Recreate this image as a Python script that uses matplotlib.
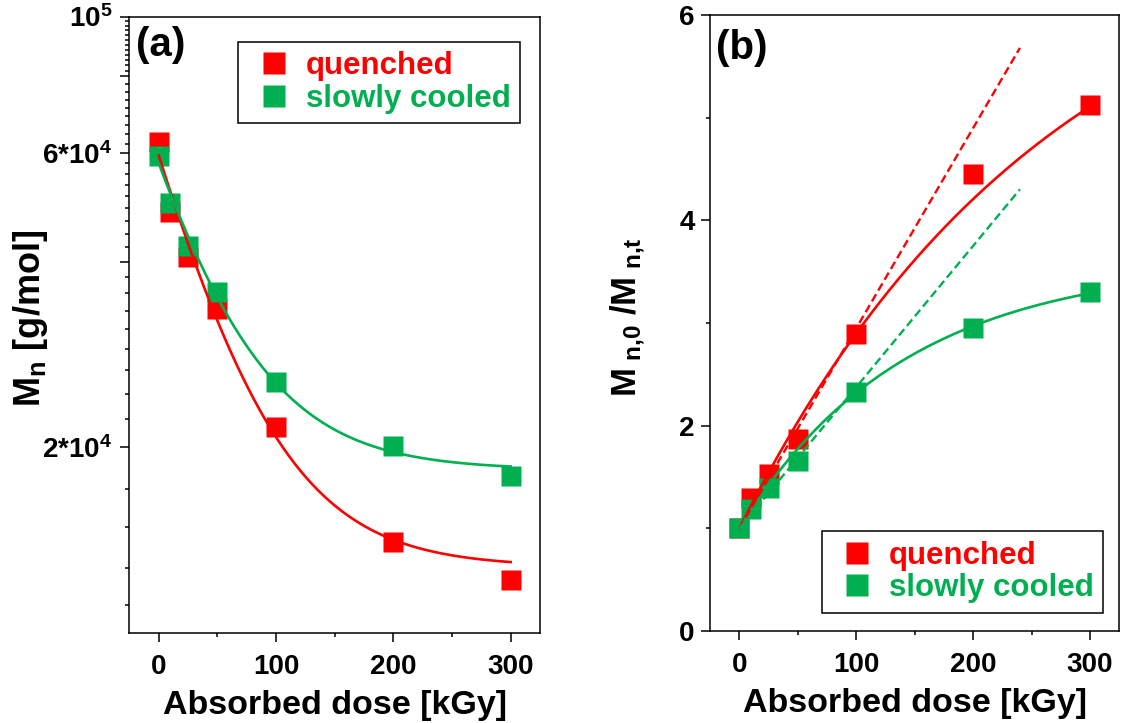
import matplotlib
matplotlib.use("Agg")
import matplotlib.pyplot as plt
import numpy as np
from matplotlib.lines import Line2D
from matplotlib.ticker import FixedLocator, FixedFormatter, NullFormatter

plt.rcParams.update({
    "font.family": ["Liberation Sans", "DejaVu Sans"],
    "font.weight": "bold",
    "mathtext.fontset": "custom",
    "mathtext.rm": "Liberation Sans:bold",
    "mathtext.it": "Liberation Sans:bold",
    "mathtext.bf": "Liberation Sans:bold",
    "mathtext.sf": "Liberation Sans:bold",
    "axes.linewidth": 1.1,
})

RED = "#FF0000"
GREEN = "#00B050"

# measured number-average molar mass vs absorbed dose
dose = np.array([0, 10, 25, 50, 100, 200, 300])
mn_quenched = np.array([62500, 48200, 40800, 33500, 21600, 14050, 12200])
mn_slow = np.array([59300, 49800, 42500, 35800, 25500, 20070, 17950])
series_labels = ["quenched", "slowly cooled"]

# (a) exponential decay fits  M(D) = M_inf + (M_0 - M_inf) exp(-D/tau)
fit_a_quenched = (59500, 12800, 56.6)
fit_a_slow = (57800, 18400, 58.0)
# (b) saturating fits  y(D) = 1 + A (1 - exp(-D/tau))
fit_b_quenched = (6.10, 268.0)
fit_b_slow = (2.60, 141.0)
# (b) initial linear trends  y(D) = 1 + k D, drawn up to trend_end
trend_b_quenched = 0.0195
trend_b_slow = 0.01376
trend_end = 240

x_ticks = [0, 100, 200, 300]
x_minor = [50, 150, 250]
ya_major = [2e4, 4e4, 6e4, 8e4, 1e5]
ya_labels = ["2*10$^4$", "", "6*10$^4$", "", "10$^5$"]
ya_minor = ([11100, 12750, 14850, 17100]
            + [20000 + 2222.2 * k for k in range(1, 9)]
            + [40000 + 2222.2 * k for k in range(1, 9)]
            + [60000 + 2222.2 * k for k in range(1, 9)]
            + [80000 + 1666.7 * k for k in range(1, 12)])
yb_ticks = [0, 2, 4, 6]
yb_minor = [1, 3, 5]

W, H = 1124, 723
fig = plt.figure(figsize=(W / 100, H / 100), dpi=100)
ax_a = fig.add_axes([129.4 / W, (H - 633) / H, (540.0 - 129.4) / W, 616.5 / H])
ax_b = fig.add_axes([710.2 / W, (H - 631) / H, (1119.3 - 710.2) / W, 616.0 / H])

ms = 15
d_fit = np.linspace(0, 300, 301)


def decay(d, p):
    m0, minf, tau = p
    return minf + (m0 - minf) * np.exp(-d / tau)


def saturate(d, p):
    a, tau = p
    return 1 + a * (1 - np.exp(-d / tau))


# ---- panel (a)
ax_a.plot(dose, mn_quenched, "s", color=RED, ms=ms, mec="none", zorder=3)
ax_a.plot(dose, mn_slow, "s", color=GREEN, ms=ms, mec="none", zorder=4)
ax_a.plot(d_fit, decay(d_fit, fit_a_quenched), color=RED, lw=1.9, zorder=5)
ax_a.plot(d_fit, decay(d_fit, fit_a_slow), color=GREEN, lw=1.9, zorder=5)
ax_a.set_yscale("log")
ax_a.set_ylim(1e4, 1e5)
ax_a.yaxis.set_major_locator(FixedLocator(ya_major))
ax_a.yaxis.set_major_formatter(FixedFormatter(ya_labels))
ax_a.yaxis.set_minor_locator(FixedLocator(ya_minor))
ax_a.yaxis.set_minor_formatter(NullFormatter())

# ---- panel (b)
ratio_quenched = mn_quenched[0] / mn_quenched
ratio_slow = mn_slow[0] / mn_slow
ax_b.plot(dose, ratio_quenched, "s", color=RED, ms=ms, mec="none", zorder=3)
ax_b.plot(dose, ratio_slow, "s", color=GREEN, ms=ms, mec="none", zorder=4)
ax_b.plot(d_fit, saturate(d_fit, fit_b_quenched), color=RED, lw=1.9, zorder=5)
ax_b.plot(d_fit, saturate(d_fit, fit_b_slow), color=GREEN, lw=1.9, zorder=5)
d_lin = np.array([0, trend_end])
ax_b.plot(d_lin, 1 + trend_b_quenched * d_lin, color=RED, lw=1.7,
          dashes=(3.5, 1.8), zorder=6)
ax_b.plot(d_lin, 1 + trend_b_slow * d_lin, color=GREEN, lw=1.7,
          dashes=(3.5, 1.8), zorder=6)
ax_b.set_ylim(0, 6)
ax_b.yaxis.set_major_locator(FixedLocator(yb_ticks))
ax_b.yaxis.set_minor_locator(FixedLocator(yb_minor))

for ax in (ax_a, ax_b):
    ax.set_xlim(-25, 325)
    ax.xaxis.set_major_locator(FixedLocator(x_ticks))
    ax.xaxis.set_minor_locator(FixedLocator(x_minor))
    ax.tick_params(which="both", direction="out", width=1.1,
                   top=False, right=False)
    ax.tick_params(which="major", length=6.2)
    ax.tick_params(which="minor", length=3.2)
    ax.tick_params(axis="x", labelsize=20, pad=9)
    ax.set_xlabel("Absorbed dose [kGy]", fontsize=24.5, fontweight="bold",
                  va="top")
    ax.xaxis.set_label_coords(0.5, -0.093)
    for lab in ax.get_xticklabels() + ax.get_yticklabels():
        lab.set_fontweight("bold")

ax_a.tick_params(axis="y", which="both", labelsize=20, pad=6)
ax_b.tick_params(axis="y", which="both", labelsize=20, pad=5)

ax_a.text(-0.242, 0.51, r"M$_{n}$ [g/mol]", transform=ax_a.transAxes,
          rotation=90, ha="center", va="center", fontsize=26,
          fontweight="bold")
ax_b.text(-0.201, 0.51, r"M$_{\ n{,}0}$ /M$_{\ n{,}t}$",
          transform=ax_b.transAxes, rotation=90, ha="center", va="center",
          fontsize=25, fontweight="bold")

ax_a.text(0.017, 0.984, "(a)", transform=ax_a.transAxes, ha="left",
          va="top", fontsize=29, fontweight="bold")
ax_b.text(0.015, 0.978, "(b)", transform=ax_b.transAxes, ha="left",
          va="top", fontsize=29, fontweight="bold")

handles = [Line2D([], [], ls="none", marker="s", ms=16, color=c, mec="none")
           for c in (RED, GREEN)]


def add_legend(ax, loc, anchor):
    leg = ax.legend(handles, series_labels, loc=loc, bbox_to_anchor=anchor,
                    borderaxespad=0, frameon=True, fancybox=False,
                    edgecolor="black", facecolor="white", framealpha=1,
                    prop={"size": 22.5, "weight": "bold"},
                    borderpad=0.3, handlelength=1.65, handletextpad=0.2,
                    labelspacing=0.08)
    leg.get_frame().set_linewidth(1.1)
    for txt, c in zip(leg.get_texts(), (RED, GREEN)):
        txt.set_color(c)
    return leg


add_legend(ax_a, "upper right", (0.951, 0.959))
add_legend(ax_b, "lower right", (0.961, 0.030))

fig.savefig("out.png", dpi=100)
